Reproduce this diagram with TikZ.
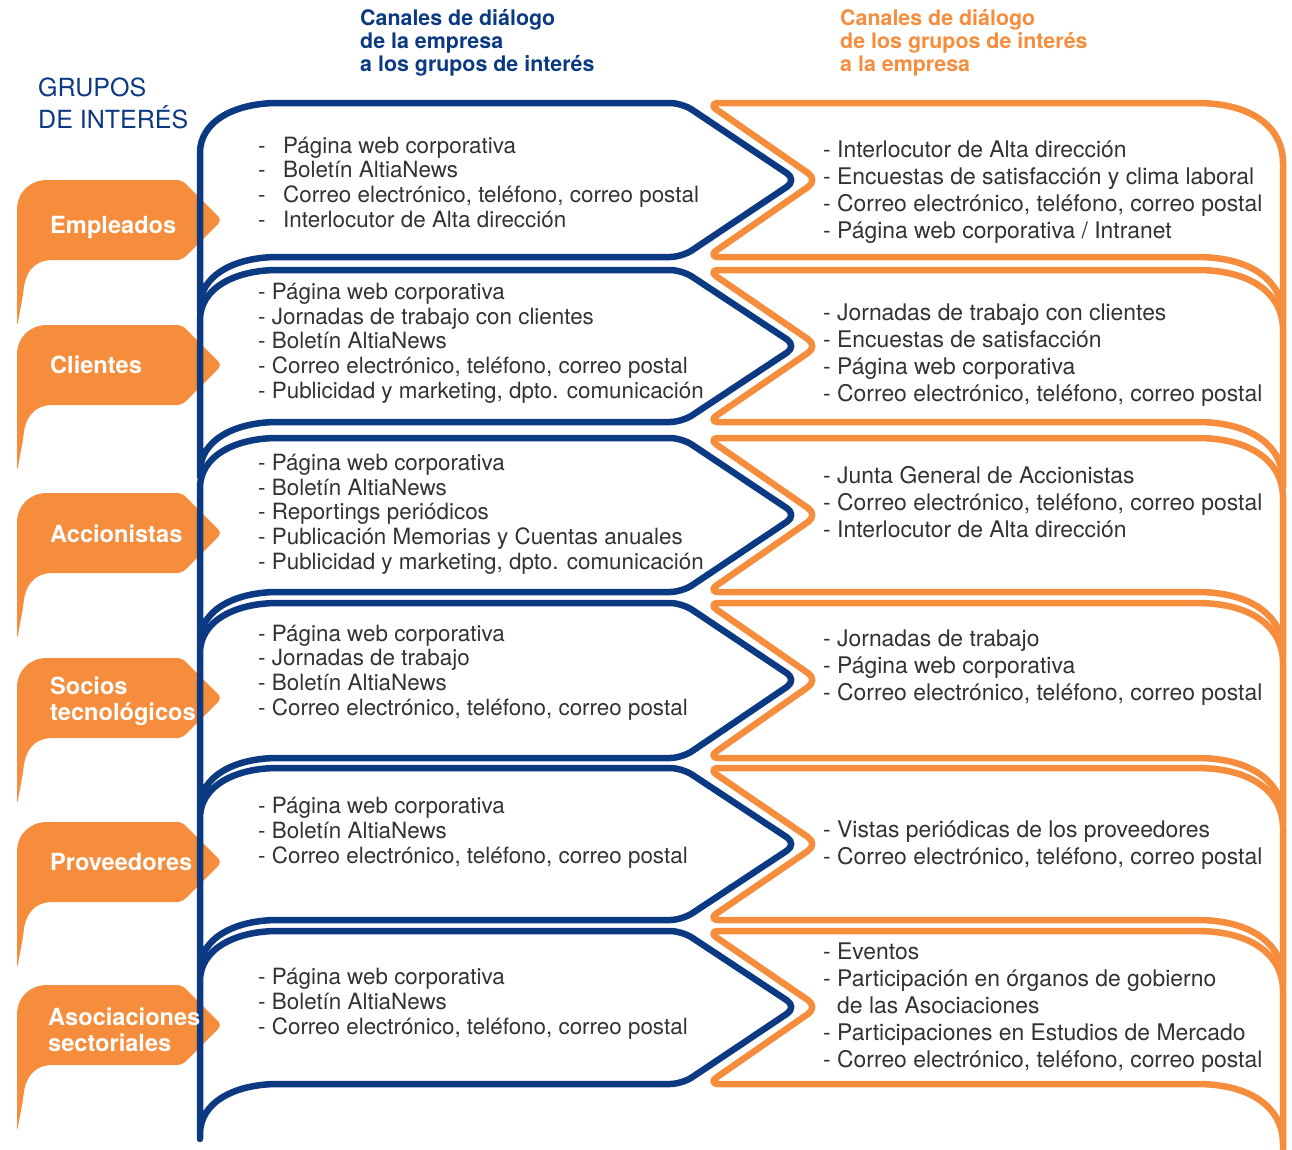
\documentclass[tikz,border=0pt]{standalone}
\usepackage{fontspec}
\setmainfont{TeX Gyre Heros}
\definecolor{azul}{RGB}{12,58,130}
\definecolor{naranja}{RGB}{246,141,60}
\definecolor{gris}{RGB}{50,50,50}

\begin{document}
\begin{tikzpicture}[x=1pt,y=-1pt,
  bline/.style={draw=azul,line width=6.5pt,rounded corners=12pt,line join=round},
  oline/.style={draw=naranja,line width=6.5pt,rounded corners=12pt,line join=round},
  tab/.style={fill=naranja,rounded corners=5pt},
  tabtxt/.style={anchor=base west,inner sep=0,text=white,align=left,font=\fontsize{23.6}{26}\selectfont\bfseries},
  ltxt/.style={anchor=base west,inner sep=0,text=gris,align=left,font=\fontsize{22.4}{24.6}\selectfont},
  rtxt/.style={anchor=base west,inner sep=0,text=gris,align=left,font=\fontsize{22.9}{26.8}\selectfont},
  head/.style={anchor=base west,inner sep=0,align=left,font=\fontsize{21.4}{23}\selectfont\bfseries}]
\useasboundingbox (0,0) rectangle (1292,1149);

% pestanas de los grupos
\fill[tab] (17,327) -- (17,215) .. controls (17,192) and (30,180) .. (52,180) -- (182,180) -- (222,220) -- (182,260) -- (58,260) .. controls (32,260) and (25,275) .. (23,295) -- cycle;
\fill[tab] (17,472) -- (17,360) .. controls (17,337) and (30,325) .. (52,325) -- (182,325) -- (222,365) -- (182,405) -- (58,405) .. controls (32,405) and (25,420) .. (23,440) -- cycle;
\fill[tab] (17,640) -- (17,528) .. controls (17,505) and (30,493) .. (52,493) -- (182,493) -- (222,533) -- (182,573) -- (58,573) .. controls (32,573) and (25,588) .. (23,608) -- cycle;
\fill[tab] (17,805) -- (17,693) .. controls (17,670) and (30,658) .. (52,658) -- (182,658) -- (222,698) -- (182,738) -- (58,738) .. controls (32,738) and (25,753) .. (23,773) -- cycle;
\fill[tab] (17,969) -- (17,857) .. controls (17,834) and (30,822) .. (52,822) -- (182,822) -- (222,862) -- (182,902) -- (58,902) .. controls (32,902) and (25,917) .. (23,937) -- cycle;
\fill[tab] (17,1132) -- (17,1020) .. controls (17,997) and (30,985) .. (52,985) -- (182,985) -- (222,1025) -- (182,1065) -- (58,1065) .. controls (32,1065) and (25,1080) .. (23,1100) -- cycle;

% canales empresa -> grupos
\draw[bline] (200,319) .. controls (200,275) and (235,257) .. (290,257) -- (682,257) -- (797,180) -- (682,103) -- (290,103) .. controls (235,103) and (200,121) .. (200,165) -- cycle;
\draw[bline] (200,484) .. controls (200,440) and (235,422) .. (290,422) -- (682,422) -- (797,346) -- (682,270) -- (290,270) .. controls (235,270) and (200,288) .. (200,332) -- cycle;
\draw[bline] (200,654) .. controls (200,610) and (235,592) .. (290,592) -- (682,592) -- (797,515) -- (682,438) -- (290,438) .. controls (235,438) and (200,456) .. (200,500) -- cycle;
\draw[bline] (200,820) .. controls (200,776) and (235,758) .. (290,758) -- (682,758) -- (797,680) -- (682,603) -- (290,603) .. controls (235,603) and (200,621) .. (200,665) -- cycle;
\draw[bline] (200,982) .. controls (200,938) and (235,920) .. (290,920) -- (682,920) -- (797,844) -- (682,768) -- (290,768) .. controls (235,768) and (200,786) .. (200,830) -- cycle;
\draw[bline] (200,1146) .. controls (200,1102) and (235,1084) .. (290,1084) -- (682,1084) -- (797,1007) -- (682,931) -- (290,931) .. controls (235,931) and (200,949) .. (200,993) -- cycle;

% canales grupos -> empresa
\draw[oline] (1283,329) .. controls (1283,280) and (1250,257) .. (1185,257) -- (707,257) -- (818,180) -- (707,103) -- (1185,103) .. controls (1250,103) and (1283,126) .. (1283,175) -- cycle;
\draw[oline] (1283,494) .. controls (1283,445) and (1250,422) .. (1185,422) -- (707,422) -- (818,346) -- (707,270) -- (1185,270) .. controls (1250,270) and (1283,293) .. (1283,342) -- cycle;
\draw[oline] (1283,664) .. controls (1283,615) and (1250,592) .. (1185,592) -- (707,592) -- (818,515) -- (707,438) -- (1185,438) .. controls (1250,438) and (1283,461) .. (1283,510) -- cycle;
\draw[oline] (1283,830) .. controls (1283,781) and (1250,758) .. (1185,758) -- (707,758) -- (818,680) -- (707,603) -- (1185,603) .. controls (1250,603) and (1283,626) .. (1283,675) -- cycle;
\draw[oline] (1283,992) .. controls (1283,943) and (1250,920) .. (1185,920) -- (707,920) -- (818,844) -- (707,768) -- (1185,768) .. controls (1250,768) and (1283,791) .. (1283,840) -- cycle;
\draw[oline] (1283,1156) .. controls (1283,1107) and (1250,1084) .. (1185,1084) -- (707,1084) -- (818,1007) -- (707,931) -- (1185,931) .. controls (1250,931) and (1283,954) .. (1283,1003) -- cycle;

% titulos (base = ultima linea)
\node[anchor=base west,inner sep=0,text=azul,align=left,font=\fontsize{25}{32}\selectfont] (grupos) at (38,128) {GRUPOS\\DE INTERÉS};
\node[head,text=azul] (titulo-azul) at (360,71) {Canales de diálogo\\de la empresa\\a los grupos de interés};
\node[head,text=naranja] (titulo-naranja) at (840,71) {Canales de diálogo\\de los grupos de interés\\a la empresa};

\node[tabtxt] (empleados) at (50,233) {Empleados};
\node[tabtxt] (clientes) at (50,373) {Clientes};
\node[tabtxt] (accionistas) at (50,542) {Accionistas};
\node[tabtxt] (socios) at (50,720) {Socios\\tecnológicos};
\node[tabtxt] (proveedores) at (50,870) {Proveedores};
\node[tabtxt] (asociaciones) at (48,1051) {Asociaciones\\sectoriales};

% lado empresa
\node[ltxt] (empleados-a) at (258,227) {-\hspace{17.5pt}Página web corporativa\\-\hspace{17.5pt}Boletín AltiaNews\\-\hspace{17.5pt}Correo electrónico, teléfono, correo postal\\-\hspace{17.5pt}Interlocutor de Alta dirección};
\node[ltxt] (clientes-a) at (258,398) {- Página web corporativa\\- Jornadas de trabajo con clientes\\- Boletín AltiaNews\\- Correo electrónico, teléfono, correo postal\\- Publicidad y marketing, dpto. comunicación};
\node[ltxt] (accionistas-a) at (258,569) {- Página web corporativa\\- Boletín AltiaNews\\- Reportings periódicos\\- Publicación Memorias y Cuentas anuales\\- Publicidad y marketing, dpto. comunicación};
\node[ltxt] (socios-a) at (258,715) {- Página web corporativa\\- Jornadas de trabajo\\- Boletín AltiaNews\\- Correo electrónico, teléfono, correo postal};
\node[ltxt] (proveedores-a) at (258,863) {- Página web corporativa\\- Boletín AltiaNews\\- Correo electrónico, teléfono, correo postal};
\node[ltxt] (asociaciones-a) at (258,1034) {- Página web corporativa\\- Boletín AltiaNews\\- Correo electrónico, teléfono, correo postal};

% lado grupos
\node[rtxt] (empleados-n) at (823,238) {- Interlocutor de Alta dirección\\- Encuestas de satisfacción y clima laboral\\- Correo electrónico, teléfono, correo postal\\- Página web corporativa / Intranet};
\node[rtxt] (clientes-n) at (823,401) {- Jornadas de trabajo con clientes\\- Encuestas de satisfacción\\- Página web corporativa\\- Correo electrónico, teléfono, correo postal};
\node[rtxt] (accionistas-n) at (823,537) {- Junta General de Accionistas\\- Correo electrónico, teléfono, correo postal\\- Interlocutor de Alta dirección};
\node[rtxt] (socios-n) at (823,700) {- Jornadas de trabajo\\- Página web corporativa\\- Correo electrónico, teléfono, correo postal};
\node[rtxt] (proveedores-n) at (823,864) {- Vistas periódicas de los proveedores\\- Correo electrónico, teléfono, correo postal};
\node[rtxt] (asociaciones-n) at (823,1067) {- Eventos\\- Participación en órganos de gobierno\\\hphantom{- }de las Asociaciones\\- Participaciones en Estudios de Mercado\\- Correo electrónico, teléfono, correo postal};
\end{tikzpicture}
\end{document}
